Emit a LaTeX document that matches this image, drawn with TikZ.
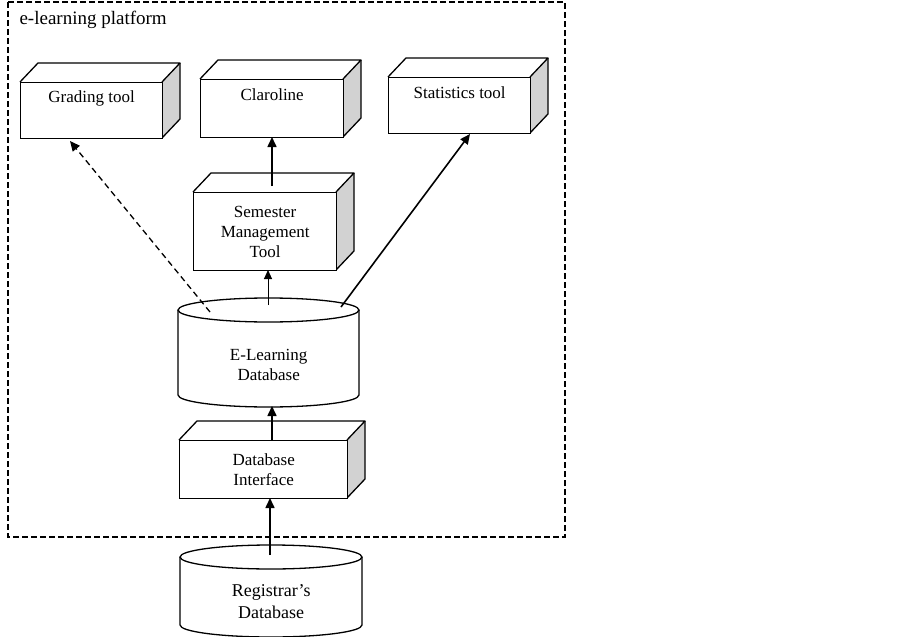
\documentclass[tikz,border=0pt]{standalone}
\usepackage{fontspec}
\setmainfont{Liberation Serif}
\usetikzlibrary{arrows.meta}
\tikzset{
    front/.style={draw, fill=white, line width=1.3pt},
    boxtext/.style={align=center, font=\fontsize{17}{20}\selectfont},
    link/.style={-{Triangle[length=10pt, width=9pt]}, line width=1.6pt},
    thinlink/.style={-{Triangle[length=9pt, width=8pt]}, line width=1pt}
}
% bloc 3D : x1, nom, y1, x2, y2
\newcommand{\bloc}[5]{
    \fill[gray!35] (#4,#3) -- ++(18,-19) -- ++(0,#5-#3) -- (#4,#5) -- cycle;
    \draw[line width=1.3pt, line join=round] (#1,#3) -- ++(18,-19) -- ++(#4-#1,0) -- (#4,#3);
    \draw[line width=1.3pt, line join=round] (#4+18,#3-19) -- ++(0,#5-#3) -- (#4,#5);
    \node[front, anchor=north west, minimum width=#4pt-#1pt, minimum height=#5pt-#3pt,
          inner sep=0pt] (#2) at (#1,#3) {};
}
% cylindre : x1, nom, ytop, x2, ybottom
\newcommand{\cyl}[5]{
    \draw[line width=1.3pt, fill=white] (#1,#3) -- (#1,#5)
        arc[start angle=180, end angle=0, x radius=#4/2-#1/2, y radius=12]
        -- (#4,#3);
    \draw[line width=1.3pt, fill=white] ({(#1+#4)/2},#3) ellipse[x radius=#4/2-#1/2, y radius=12];
    \node[anchor=north west, minimum width=#4pt-#1pt, minimum height=#5pt-#3pt+12pt,
          inner sep=0pt] (#2) at (#1,#3) {};
}
\begin{document}
\begin{tikzpicture}[x=1pt, y=-1pt]
    \useasboundingbox (0,0) rectangle (903,637);

    % cadre de la plateforme
    \draw[line width=1.2pt, dash pattern=on 6pt off 3pt] (8,2) rectangle (565,537);
    \node[anchor=west, font=\fontsize{19}{22}\selectfont] (titre) at (16,20) {e-learning platform};

    % blocs
    \bloc{20}{grading}{82}{162}{138}
    \bloc{200}{claroline}{79}{343}{137}
    \bloc{388}{stats}{77}{530}{133}
    \bloc{193}{semester}{192}{336}{270}
    \bloc{179}{interface}{440}{347}{498}
    \node[boxtext] at ([yshift=-16pt]grading.north) {Grading tool};
    \node[boxtext] at ([yshift=-16pt]claroline.north) {Claroline};
    \node[boxtext] at ([yshift=-16pt]stats.north) {Statistics tool};
    \node[boxtext] at (semester) {Semester\\Management\\Tool};
    \node[boxtext] at (interface) {Database\\Interface};

    % bases de donnees
    \cyl{178}{elearn}{310}{359}{395}
    \cyl{180}{registrar}{557}{362}{625}
    \node[boxtext] at ([yshift=-6pt]elearn.center) {E-Learning\\Database};
    \node[boxtext, font=\fontsize{18}{22}\selectfont] at ([yshift=-4pt]registrar.center) {Registrar's\\Database};

    % fleches
    \coordinate (gradstart) at (210,312);
    \coordinate (gradend) at (70,141);
    \coordinate (statstart) at (341,307);
    \coordinate (statend) at (470,134);
    \coordinate (clarostart) at (272,186);
    \coordinate (claroend) at (272,137);
    \coordinate (semstart) at (268,305);
    \coordinate (semend) at (268,270);
    \coordinate (dbstart) at (272,440);
    \coordinate (dbend) at (272,406);
    \coordinate (regstart) at (270,555);
    \coordinate (regend) at (270,498);
    \draw[link, line width=1.3pt, dash pattern=on 6pt off 4pt] (gradstart) -- (gradend);
    \draw[link] (clarostart) -- (claroend);
    \draw[thinlink] (semstart) -- (semend);
    \draw[link] (statstart) -- (statend);
    \draw[link] (dbstart) -- (dbend);
    \draw[link] (regstart) -- (regend);
\end{tikzpicture}
\end{document}
